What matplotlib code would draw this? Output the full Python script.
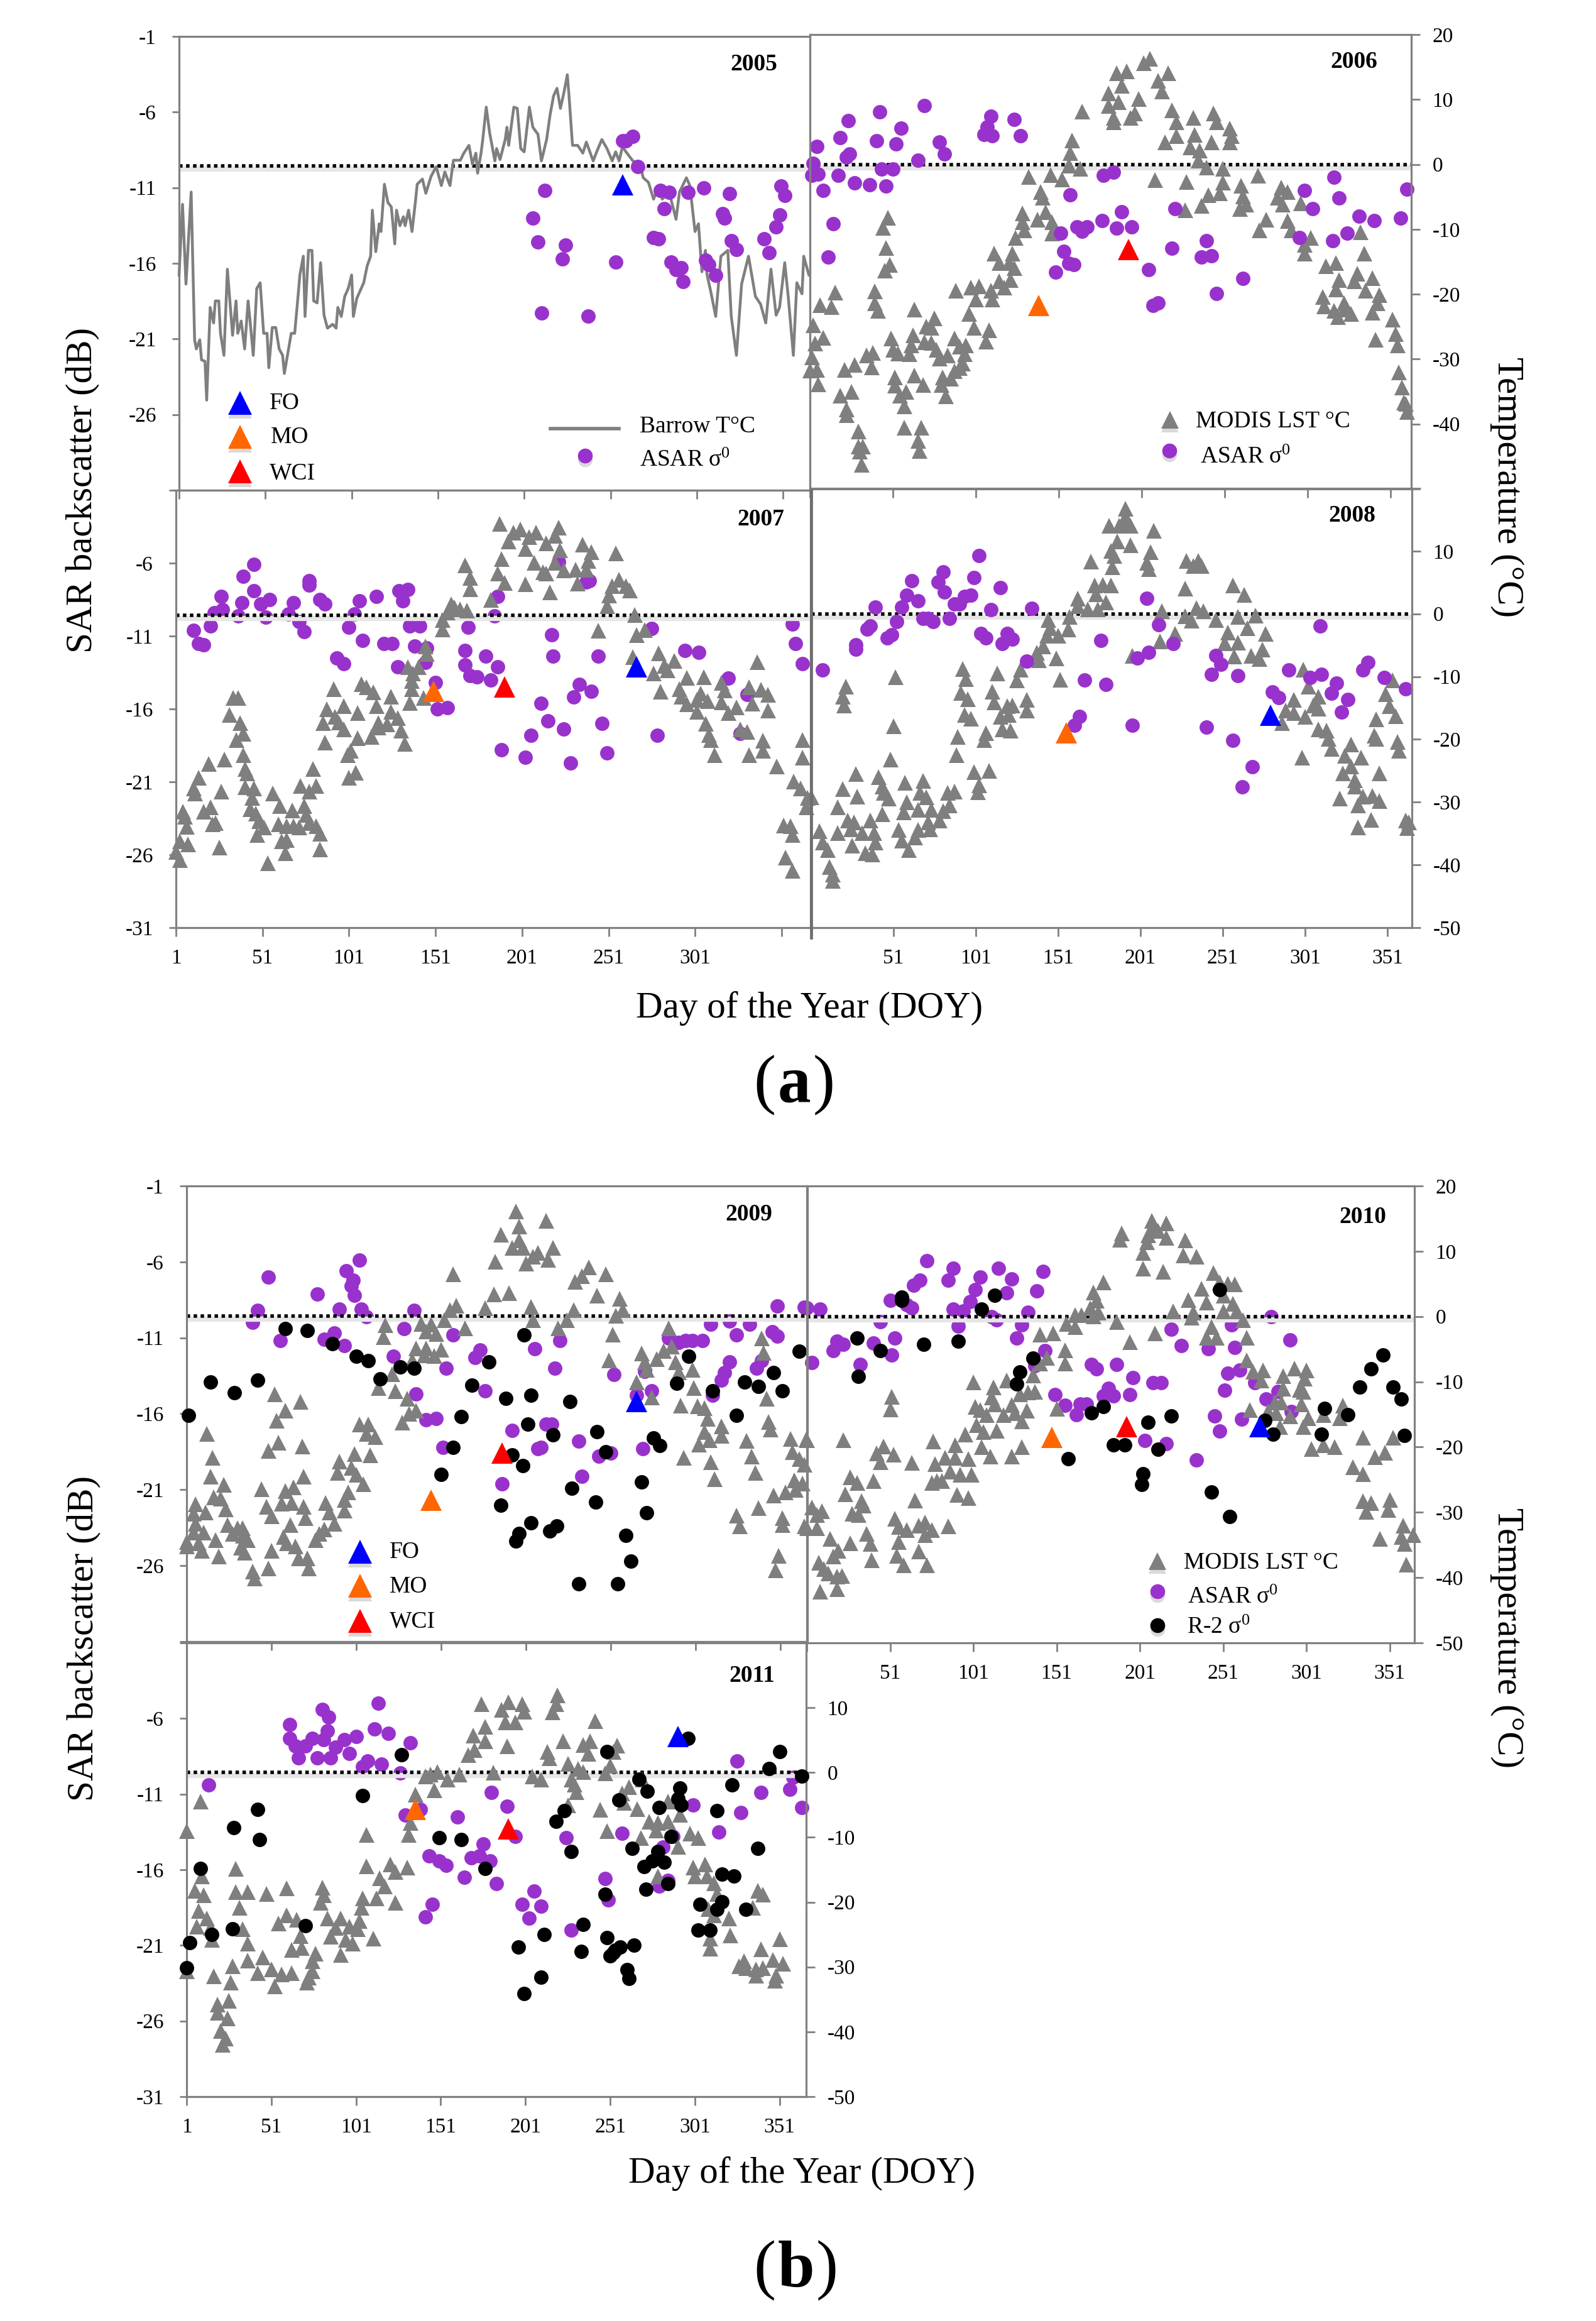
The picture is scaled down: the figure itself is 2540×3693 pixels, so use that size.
import numpy as np
import matplotlib
matplotlib.use("Agg")
from matplotlib import pyplot as plt
from matplotlib.lines import Line2D

plt.rcParams['font.family'] = ['Liberation Serif', 'DejaVu Serif']
plt.rcParams['mathtext.default'] = 'regular'

# all series are (DOY, value)
barrow_2005 = [(1,-16.8),(3,-5.9),(5,-18.2),(8,-4.0),(10,-26.8),(11,-28.2),(13,-26.8),(14,-29.9),(16,-30.1),(17,-36.1),
    (19,-21.8),(21,-24.2),(22,-20.8),(24,-20.8),(25,-25.8),(27,-29.2),(29,-15.9),(32,-26.1),(34,-20.8),(35,-25.8),
    (37,-23.9),(39,-28.2),(41,-20.8),(42,-23.5),(44,-29.2),(46,-18.9),(48,-18.0),(50,-25.8),(52,-25.8),(53,-31.1),
    (55,-24.9),(57,-24.9),(59,-28.2),(61,-29.2),(62,-32.0),(66,-25.8),(68,-25.8),(70,-19.9),(71,-16.8),(73,-13.9),
    (74,-23.2),(76,-13.0),(78,-13.0),(79,-20.8),(81,-21.1),(83,-14.9),(85,-23.0),(87,-25.0),(90,-24.4),(92,-25.0),
    (93,-21.8),(95,-23.2),(97,-20.1),(99,-18.9),(101,-16.8),(102,-23.2),(104,-20.4),(106,-19.2),(108,-18.0),(110,-15.4),
    (112,-13.9),(113,-6.8),(115,-13.2),(117,-8.9),(118,-10.1),(120,-2.8),(122,-5.6),(124,-6.3),(126,-12.0),(127,-6.8),
    (129,-9.2),(131,-7.8),(132,-9.2),(134,-6.8),(136,-10.1),(138,-5.4),(139,-2.8),(142,-2.0),(144,-4.2),(147,-1.6),
    (150,-0.1),(153,-3.0),(155,-0.9),(158,-3.0),(160,0.9),(164,0.9),(166,2.0),(169,3.2),(171,0.3),(173,2.0),
    (174,-1.1),(176,2.0),(177,4.1),(179,9.1),(181,5.1),(184,0.8),(185,2.7),(187,1.0),(190,4.1),(191,6.0),
    (192,3.2),(195,9.1),(197,8.9),(199,2.7),(201,2.2),(204,9.1),(206,6.0),(209,4.9),(211,0.8),(214,4.1),
    (216,7.9),(218,10.8),(220,12.0),(222,8.9),(224,11.3),(226,14.1),(227,10.8),(229,3.2),(232,3.2),(235,2.0),
    (237,3.7),(241,0.8),(243,2.2),(246,4.1),(249,2.7),(252,0.8),(254,2.2),(256,0.8),(258,3.0),(260,2.2),
    (264,0.8),(268,0.3),(270,-1.8),(273,-2.5),(276,-5.1),(279,-3.0),(281,-5.1),(285,-4.0),(289,-8.2),(291,-4.0),
    (295,-1.8),(297,-3.0),(300,-10.1),(302,-8.9),(304,-16.3),(306,-13.0),(307,-16.8),(309,-19.2),(312,-23.2),(315,-13.9),
    (319,-13.0),(321,-23.2),(324,-29.2),(327,-18.2),(331,-13.9),(335,-20.1),(338,-21.3),(341,-24.2),(344,-15.9),(347,-23.0),
    (349,-21.8),(352,-14.9),(354,-20.1),(357,-29.2),(359,-18.0),(362,-19.7),(363,-13.9),(366,-16.8)]

asar_2005 = [(213,-11.2),(206,-13.0),(209,-14.6),(225,-14.8),(223,-15.7),(211,-19.3),(238,-19.5),(254,-15.9),(258,-7.9),
    (260,-7.9),(264,-7.6),(267,-9.6),(280,-11.2),(285,-11.3),(282,-12.4),(296,-11.3),(305,-11),(320,-11.4),(316,-12.7),
    (317,-13),(276,-14.3),(279,-14.4),(286,-15.9),(289,-16.4),(292,-16.3),(293,-17.2),(306,-15.8),(308,-16.1),(312,-16.8),
    (321,-14.5),(324,-15.1),(340,-14.4),(343,-15.3),(347,-13.6),(349,-12.8),(350,-10.9),(352,-11.5)]

asar_2006 = [(5,-8.4),(3,-9.5),(2,-10.3),(6,-10.2),(9,-11.3),(15,-13.5),(12,-15.7),(18,-10.3),(19,-7.8),(24,-6.7),(23,-9.1),
    (25,-8.9),(28,-10.8),(37,-10.9),(43,-6.1),(41,-8),(44,-9.9),(47,-11),(51,-9.9),(53,-8.2),(56,-7.2),(66,-9.3),(70,-5.7),
    (79,-8.1),(82,-8.9),(110,-6.4),(108,-7.1),(106,-7.6),(111,-7.7),(124,-6.6),(128,-7.7),(158,-11.6),(178,-10.3),(184,-10.1),
    (152,-14.1),(154,-15.3),(157,-16.1),(160,-16.2),(149,-16.7),(162,-13.7),(165,-14),(168,-13.7),(177,-13.3),(189,-12.7),
    (186,-13.8),(195,-13.7),(221,-12.5),(219,-15.1),(205,-16.5),(208,-18.9),(211,-18.7),(240,-14.6),(237,-15.7),(243,-15.6),
    (246,-18.1),(262,-17.1),(299,-11.3),(304,-12.5),(317,-10.4),(320,-11.8),(332,-13),(341,-13.3),(357,-13.1),(361,-11.2),
    (296,-14.4),(316,-14.6),(325,-14.1)]

modis_2006 = [(206,16.3),(202,15.6),(217,14.1),(186,14.1),(192,14.4),(211,12.9),(189,12.2),(213,11.3),(181,11),(199,10.1),
    (187,9.6),(181,9.1),(165,8.2),(197,7.9),(184,7.2),(194,7.2),(219,8.4),(232,7.2),(244,7.9),(222,6.5),(246,6.5),(184,6.5),
    (254,5.6),(255,4.4),(233,4.6),(222,4.4),(215,3.4),(230,2.7),(243,3.4),(254,3.4),(236,2.2),(159,3.7),(158,1.8),(235,0.6),
    (240,-0.4),(250,-0.6),(164,-0.6),(157,-0.1),(271,-1.7),(209,-2.4),(228,-2.7),(250,-2.8),(261,-3.2),(133,-1.9),(146,-1.6),
    (153,-2.3),(285,-3.5),(289,-4.2),(241,-4.7),(248,-4.4),(262,-4.9),(140,-4.2),(141,-5.1),(283,-5.1),(297,-5.9),(264,-6.1),
    (260,-6.8),(286,-6.1),(237,-6.3),(227,-7),(276,-8.5),(272,-10.1),(289,-8.7),(291,-10.1),(143,-7.3),(138,-8.5),(129,-7.5),
    (129,-8.9),(130,-10.1),(147,-8.9),(147,-10.6),(125,-11.3),(333,-10.4),(303,-11.3),(299,-12.3),(299,-13.7),(335,-13.7),
    (48,-8.2),(45,-9.7),(47,-12.8),(49,-15.4),(46,-16.3),(112,-13.7),(123,-13.7),(115,-15.1),(121,-15.1),(124,-15.9),
    (312,-15.6),(318,-15.1),(331,-16.8),(329,-18),(340,-17.5),(320,-17.8),(115,-18),(122,-17.8),(118,-18.9),(318,-19.2),
    (336,-19.4),(344,-20.1),(310,-20.4),(16,-19.7),(40,-19.5),(89,-19.4),(98,-18.9),(103,-18.7),(110,-19.4),(7,-21.6),
    (14,-21.9),(40,-21.3),(42,-22.5),(101,-20.8),(111,-20.8),(64,-22.3),(97,-23),(311,-21.8),(317,-22.5),(323,-21.3),
    (319,-23.5),(327,-23),(340,-22.8),(323,-22.3),(343,-21.3),(352,-23.9),(354,-26.1),(355,-27.8),(342,-27),(3,-24.7),
    (4,-27.5),(9,-26.7),(2,-29.7),(1,-31.7),(5,-31.6),(6,-33.8),(22,-31.6),(28,-30.8),(35,-29.4),(39,-29),(38,-31.2),
    (76,-23.7),(71,-24.9),(74,-25.1),(100,-25.1),(109,-25.5),(50,-26.8),(63,-26.3),(88,-26.8),(95,-27.8),(107,-27.2),
    (91,-28),(51,-28.5),(54,-29.1),(61,-29.2),(62,-27.8),(70,-27.3),(74,-27.4),(77,-28.5),(79,-29.9),(84,-29.4),(94,-29.2),
    (93,-30.6),(88,-31.8),(91,-31.3),(81,-32.8),(86,-33),(52,-32.8),(52,-34),(64,-32.5),(69,-33.9),(80,-33.9),(59,-35),
    (55,-35.6),(58,-37.2),(26,-35),(19,-35.6),(23,-37.7),(23,-38.6),(83,-35.7),(58,-40.5),(68,-40.5),(66,-42.5),(67,-44.1),
    (30,-41.1),(30,-43.4),(33,-43.4),(31,-44.2),(32,-46.2),(356,-32),(358,-34.3),(359,-36.6),(361,-38.1),(360,-36.8)]

asar_2007 = [(11,-10.6),(14,-11.5),(17,-11.6),(21,-10.3),(23,-9.4),(28,-9.2),(27,-8.3),(37,-9.6),(39,-8.7),(40,-6.9),(46,-6.1),
    (46,-7.9),(50,-8.8),(53,-9.7),(55,-8.5),(66,-9.5),(69,-8.7),(72,-10),(75,-10.7),(78,-7.2),(78,-7.5),(84,-8.5),(87,-8.8),
    (94,-12.5),(98,-12.9),(101,-10.4),(104,-9.5),(107,-8.6),(109,-11.3),(117,-8.3),(121,-11.5),(126,-11.5),(129,-13.1),
    (130,-7.9),(135,-7.8),(132,-8.6),(136,-10.3),(142,-10.3),(139,-11.7),(146,-11.8),(145,-12.8),(151,-14.2),(152,-16),
    (158,-15.9),(170,-10.4),(168,-12),(168,-13),(171,-13.7),(175,-13.8),(180,-12.4),(187,-13.1),(183,-14),(185,-9.6),
    (187,-8.3),(189,-18.8),(203,-19.3),(206,-17.8),(212,-15.6),(216,-16.8),(225,-17.4),(229,-19.7),(218,-10.9),(219,-12.4),
    (222,-5.9),(238,-7.3),(240,-7.2),(245,-12.4),(234,-14.3),(241,-14.8),(231,-15.2),(247,-17),(250,-19),(276,-10.5),
    (279,-17.8),(295,-12),(303,-12.1),(320,-13.9),(331,-15),(327,-17.7),(357,-10.2),(359,-11.5),(363,-12.9)]

modis_2007 = [(188,14.7),(196,13.3),(200,13.8),(193,11.9),(209,13.3),(205,12.6),(222,14.1),(220,12.8),(215,11.6),(223,10.4),
    (203,10.6),(236,11.4),(241,10.1),(255,9.9),(189,9),(168,8),(208,8.4),(220,8.4),(239,8.7),(225,7.2),(232,7.3),(238,7.3),
    (187,6.7),(213,6.9),(215,6.7),(171,6),(191,5.2),(203,5),(233,5.1),(171,4.2),(217,3.7),(257,5.7),(253,4.7),(261,4.7),
    (263,4),(251,3.2),(250,1.5),(183,2.5),(160,1.8),(162,1.3),(165,1),(169,0.8),(158,0.5),(155,-0.7),(155,-2.2),(266,0.1),
    (245,-2.4),(272,-2.3),(267,-3.1),(145,-4.9),(146,-6.1),(265,-6.7),(280,-6),(283,-8.1),(289,-7.3),(285,-8.8),(277,-9.3),
    (281,-12.2),(135,-8.3),(141,-8.3),(138,-9.3),(137,-10.5),(137,-11.8),(144,-13.2),(136,-14),(125,-13),(92,-11.8),(108,-11),
    (111,-11.5),(115,-12.3),(337,-7.5),(296,-10),(306,-9.9),(316,-10.8),(292,-11.8),(293,-13),(296,-14.2),(302,-15.4),
    (302,-13.5),(304,-12.5),(308,-13.7),(316,-13.9),(318,-12),(332,-11.5),(339,-11.9),(343,-12.7),(334,-14.1),(325,-14.7),
    (320,-15.6),(343,-15.2),(307,-17.3),(309,-19.1),(310,-19.9),(312,-22.3),(327,-18.2),(331,-18.6),(340,-20),(340,-21.6),
    (332,-22.3),(348,-24.2),(363,-19.9),(363,-22.7),(358,-26.6),(362,-27.7),(366,-29.2),(365,-30.7),(352,-33.6),(356,-33.7),
    (357,-35.1),(353,-38.7),(357,-40.8),(88,-15),(98,-14.5),(106,-15.6),(117,-14.5),(125,-15.4),(129,-16.4),(93,-16.2),
    (86,-17.2),(95,-17.1),(98,-18.2),(118,-17.2),(123,-17.4),(118,-17.9),(131,-18.4),(106,-19.6),(114,-19.4),(133,-20.5),
    (87,-20.3),(102,-21.6),(100,-22.3),(32,-15.9),(34,-13.2),(37,-13.2),(38,-17.2),(40,-18.9),(36,-19.9),(40,-22.3),(29,-23),
    (20,-23.7),(41,-24.6),(42,-25.3),(14,-26),(11,-27.7),(12,-28.5),(27,-28.2),(41,-27.5),(46,-27.7),(45,-29.2),(57,-28.5),
    (61,-30.5),(80,-24.6),(73,-27.3),(82,-27.3),(78,-28.2),(105,-25.2),(101,-26),(5,-31.4),(6,-32.2),(7,-33.8),(21,-30.7),
    (17,-31.4),(24,-33.2),(22,-33.4),(44,-31),(47,-31.7),(49,-32.9),(52,-33.9),(48,-35.1),(68,-31.2),(75,-30.5),(76,-31.9),
    (78,-33.2),(60,-33.4),(65,-33.7),(69,-33.7),(72,-33.9),(82,-33.7),(84,-34.9),(65,-35.9),(62,-36.1),(84,-37.4),(64,-38),
    (26,-37.1),(3,-36.1),(8,-36.6),(1,-37.8),(3,-39.1),(54,-39.6)]

asar_2008 = [(8,-13.4),(28,-11.7),(28,-12),(35,-10.6),(37,-10.4),(40,-9.1),(47,-11.2),(50,-11),(53,-10.1),(56,-9.1),(59,-8.3),
    (62,-7.3),(66,-8.7),(69,-9.9),(72,-9.9),(75,-10.1),(78,-7.4),(81,-6.7),(82,-8.1),(85,-9.9),(88,-8.9),(91,-8.9),(94,-8.4),
    (98,-8.3),(100,-7.1),(103,-5.6),(104,-10.9),(107,-11.2),(110,-9.3),(116,-7.8),(117,-11.6),(120,-10.9),(123,-11.3),
    (132,-12.8),(135,-9.2),(161,-17.2),(164,-16.6),(167,-14.1),(177,-11.4),(180,-14.4),(196,-17.2),(199,-12.6),(206,-12.2),
    (205,-8.5),(212,-10.3),(221,-11.6),(241,-17.3),(247,-12.4),(250,-13),(244,-13.7),(260,-13.8),(257,-18.2),(269,-20),
    (263,-21.4),(281,-14.9),(285,-15.3),(291,-13.4),(304,-13.9),(311,-13.7),(310,-10.4),(320,-14.3),(317,-15),(327,-15.4),
    (323,-16.3),(336,-13.4),(339,-12.9),(349,-13.9),(362,-14.7)]

modis_2008 = [(192,16.8),(192,15.5),(191,14.6),(182,14.1),(188,14.1),(195,14.1),(209,13.3),(187,11.6),(195,11),(183,10.1),
    (207,9.9),(185,9.3),(171,8.4),(205,8.2),(229,8.5),(236,8.5),(233,7.7),(238,7.7),(184,7.5),(206,7.2),(173,4.6),(178,4.7),
    (183,4.6),(174,3.2),(228,4.1),(257,4.6),(264,3.1),(163,2.5),(180,1.9),(163,1.3),(169,0.8),(175,0.8),(214,0.5),(235,1),
    (239,0.5),(228,-0.3),(232,-1),(247,-0.9),(260,-0.4),(271,-0.2),(145,-0.9),(158,-0.4),(157,-2.4),(146,-2.2),(144,-3.4),
    (151,-3.4),(222,-3.1),(213,-4.3),(254,-2.9),(266,-2.2),(277,-3.1),(252,-4.6),(260,-4.5),(142,-5.1),(138,-6.1),(139,-7.3),
    (150,-7),(196,-6.6),(275,-5.6),(258,-6.7),(268,-6.6),(273,-7.1),(300,-8.8),(128,-8.8),(126,-10.5),(114,-9.4),(93,-8.7),
    (95,-10.3),(52,-10),(22,-11.5),(20,-13.1),(21,-14.5),(152,-10.4),(303,-11.5),(309,-13.1),(294,-13.6),(354,-10.5),
    (350,-12.7),(352,-14.6),(356,-16.3),(344,-16.8),(306,-14.5),(309,-15),(289,-15.4),(294,-15.8),(301,-16.4),(287,-17.4),
    (309,-18.4),(314,-18.6),(315,-19.9),(343,-19.4),(344,-19.9),(357,-20.4),(358,-21.8),(317,-21.5),(329,-20.8),(325,-22.6),
    (335,-22.9),(299,-22.9),(329,-24.3),(324,-25.4),(346,-25.4),(331,-26.5),(331,-27.5),(322,-29.4),(336,-29.1),(342,-29),
    (333,-30.5),(346,-29.8),(341,-32.8),(333,-34),(362,-32.9),(364,-33.2),(363,-34.1),(111,-12.3),(92,-12.5),(96,-13.5),
    (112,-14),(120,-14.6),(123,-14.5),(132,-13.6),(132,-15.4),(94,-16.1),(98,-16.7),(116,-16.4),(121,-16.1),(117,-18.4),
    (122,-18.6),(90,-19.6),(107,-19),(106,-20.1),(51,-17.9),(89,-22.5),(49,-23.2),(100,-25.2),(109,-25),(103,-27.3),(102,-28.4),
    (28,-25.5),(42,-26),(58,-26.9),(69,-26.6),(20,-27.9),(44,-27.5),(45,-28.5),(29,-29.1),(48,-29.4),(67,-28.5),(71,-29.2),
    (84,-28.5),(88,-28.3),(1,-29.2),(59,-30),(66,-31.2),(17,-30.8),(57,-31.6),(44,-31.9),(74,-31.2),(85,-30.5),(81,-31.4),
    (79,-32.9),(72,-33.2),(23,-32.9),(27,-33.2),(37,-32.9),(6,-34.6),(17,-34.9),(25,-34.3),(32,-34.9),(39,-34.9),(54,-34.4),
    (66,-34.4),(73,-34.3),(8,-36.4),(11,-37.6),(26,-36.9),(40,-36.4),(56,-36.1),(34,-38.1),(38,-38.3),(60,-37.6),(64,-35.6),
    (12,-40.3),(14,-41.5),(14,-42.5)]

asar_2009 = [(40,-10),(43,-9.2),(49,-7),(56,-11.2),(78,-8.1),(82,-11.1),(88,-10.7),(91,-9.1),(94,-11.5),(95,-6.6),(99,-7.2),
    (98,-7.6),(100,-8.2),(103,-5.9),(104,-9.1),(107,-9.6),(123,-12.2),(129,-10.4),(135,-9.2),(136,-14.7),(142,-16.4),(148,-16.3),
    (154,-13),(158,-10.8),(152,-18.2),(174,-11.8),(171,-12.3),(177,-14.5),(187,-20.6),(193,-17.1),(206,-11.7),(208,-18.3),
    (210,-18.2),(213,-16.7),(216,-16.7),(218,-13),(221,-11.2),(232,-17.8),(234,-20.1),(244,-18.8),(251,-18.6),(253,-13.4),
    (266,-14.8),(270,-18.3),(271,-13.2),(275,-14.5),(285,-11),(291,-11.3),(295,-11.2),(299,-11.2),(305,-11.2),(310,-10.1),
    (321,-9.9),(325,-10.8),(333,-10.1),(311,-14.8),(316,-13.8),(318,-13.3),(321,-12.6),(337,-13),(340,-12.5),(349,-8.9),
    (346,-10.6),(349,-10.9),(365,-9)]

r2_2009 = [(2,-16.1),(15,-13.9),(29,-14.6),(43,-13.8),(59,-10.4),(72,-10.5),(87,-11.4),(101,-12.2),(108,-12.5),(115,-13.7),
    (127,-12.9),(135,-13),(158,-18.2),(151,-20),(163,-16.2),(169,-14.1),(179,-12.6),(189,-15),(204,-14.8),(200,-10.8),(202,-16.7),
    (193,-18.7),(199,-19.4),(217,-17.4),(186,-22),(204,-23.2),(197,-23.9),(195,-24.4),(215,-23.7),(219,-23.4),(227,-15.2),
    (243,-17.2),(248,-18.5),(228,-20.9),(242,-21.8),(232,-27.2),(255,-27.2),(263,-25.7),(260,-24),(272,-22.5),(269,-20.5),
    (276,-17.6),(280,-18.1),(290,-14),(297,-12.2),(311,-14.5),(325,-16.1),(330,-13.9),(338,-14.2),(347,-13.3),(352,-14.5),(362,-11.9)]

modis_2009 = [(195,16.1),(213,14.7),(197,13.8),(186,12.6),(197,11.7),(193,10.5),(199,10.5),(217,10.5),(208,9.8),(205,9.2),(201,8.1),
    (214,8.7),(183,8.4),(238,7.5),(234,6.2),(230,5.3),(248,6.5),(158,6.5),(182,3.4),(191,3.6),(243,3.2),(256,2.7),(160,1.7),(156,1),
    (177,1.3),(204,1.5),(229,1),(258,1),(254,0.1),(153,-0.6),(205,-0.6),(225,-0.6),(285,-1.8),(118,-1.3),(139,-1.1),(145,-1.2),
    (220,-1.8),(165,-1.8),(117,-3.2),(142,-2.3),(148,-2.7),(252,-2.8),(340,-3.4),(341,-5.6),(136,-4.9),(142,-4.9),(151,-5.1),
    (269,-5.7),(287,-4.6),(282,-5.3),(250,-6.7),(141,-6),(147,-6.1),(134,-6.7),(271,-7),(278,-6.6),(289,-7),(299,-8.2),(291,-8.6),
    (272,-8.2),(122,-8.9),(114,-11),(266,-10.1),(300,-11),(124,-11.5),(131,-12.6),(53,-12),(68,-13.1),(343,-12.6),(275,-12.4),
    (292,-13.7),(59,-14.5),(136,-14.5),(132,-15),(302,-13.8),(306,-14.1),(308,-15.7),(54,-16),(128,-16.3),(103,-16.6),(108,-16.6),
    (107,-18),(112,-18.5),(344,-16.2),(345,-17.4),(13,-18),(316,-16.9),(306,-17.8),(316,-18.3),(309,-19),(303,-19.7),(331,-19.1),
    (357,-18.8),(366,-18.9),(55,-19.4),(69,-20),(49,-20.6),(358,-20.8),(334,-21.5),(362,-21.9),(294,-21.7),(100,-21.1),(109,-21.3),
    (16,-21.7),(310,-22.4),(91,-22.3),(365,-22.8),(98,-23.3),(90,-24),(101,-24.3),(15,-24.6),(70,-24.6),(336,-24),(312,-25),(23,-25.9),
    (359,-25.2),(364,-25.7),(45,-26.5),(105,-25.8),(64,-26.2),(59,-26.8),(347,-27.5),(354,-27),(360,-26.6),(96,-27),(94,-28.2),
    (17,-27.8),(21,-28),(24,-29.6),(6,-28.9),(12,-30.1),(48,-29.2),(57,-28.8),(63,-28.7),(70,-29.2),(83,-28.7),(51,-30.7),(71,-31),
    (85,-30.1),(94,-29.8),(325,-30.6),(327,-32.2),(338,-29.4),(352,-31),(352,-32),(365,-32.2),(5,-30.3),(6,-31.8),(62,-32),(25,-32),
    (31,-32.5),(34,-32.5),(11,-33.2),(5,-33.2),(1,-34.6),(1,-35.3),(8,-34.8),(10,-36),(18,-34.4),(20,-36.9),(28,-33.4),(34,-33.7),
    (37,-34.4),(33,-35.5),(35,-36.3),(58,-33.9),(60,-34.8),(51,-36),(65,-35.3),(67,-37.2),(72,-37.2),(73,-38.7),(49,-38.7),(40,-39.2),
    (41,-40.2),(77,-34.4),(79,-33.4),(82,-32.7),(88,-31.8),(350,-36.8),(348,-39)]

asar_2010 = [(1,-9),(9,-9.1),(4,-12.6),(17,-11.8),(19,-11.2),(23,-11.4),(33,-12.7),(41,-11.3),(45,-9.9),(52,-12.1),(54,-11),(51,-8.5),
    (61,-8.8),(64,-9),(65,-7.5),(69,-7.2),(73,-5.9),(86,-7.2),(89,-6.4),(89,-9.1),(92,-10.2),(95,-9.2),(99,-8.6),(102,-7.8),(105,-7),
    (116,-6.4),(124,-7.1),(121,-8),(112,-9.6),(115,-9.8),(127,-11),(130,-10.1),(134,-9.3),(139,-7.9),(143,-6.6),(144,-11.8),(138,-12.8),
    (150,-14.7),(156,-15.4),(163,-16),(165,-15.3),(169,-15.3),(172,-12.7),(175,-13),(179,-14.8),(182,-14.3),(185,-14.8),(187,-12.7),
    (195,-14.7),(197,-13.6),(204,-17.7),(209,-13.9),(214,-13.9),(217,-17.9),(220,-10.4),(226,-11.5),(235,-19),(242,-11.7),(246,-16.1),
    (249,-17.1),(252,-14.4),(254,-13.3),(258,-11.6),(256,-10.1),(261,-13.1),(262,-16.3),(270,-13.9),(277,-15),(284,-14.5),(280,-9.6),
    (291,-11.1),(292,-15.8)]

r2_2010 = [(31,-11),(45,-11.8),(32,-13.5),(58,-8.3),(58,-8.5),(71,-11.4),(92,-11.2),(106,-9.1),(114,-8.2),(127,-14),(129,-13.2),
    (137,-12.3),(158,-18.9),(172,-15.9),(179,-15.5),(185,-18),(192,-18),(206,-16.5),(220,-16.1),(212,-18.3),(203,-19.9),(202,-20.6),
    (244,-21.1),(255,-22.7),(249,-7.8),(276,-16.4),(281,-17.3),(310,-17.3),(312,-15.6),(326,-16),(333,-14.2),(340,-13),(347,-12.1),
    (353,-14.2),(358,-15),(360,-17.4)]

modis_2010 = [(208,14.7),(217,14.3),(190,12.8),(208,13.5),(212,13.2),(189,11.8),(206,12.5),(217,12.1),(228,11.7),(205,11.4),(203,9.8),
    (227,9.4),(235,9.2),(203,7.4),(215,6.9),(245,6.7),(179,5.3),(249,5.3),(254,5.1),(258,5),(238,4.3),(173,3.7),(251,3.2),(230,2.6),
    (241,2.2),(175,2.5),(257,2),(171,1.3),(221,0.8),(233,0.6),(176,0.6),(251,0.8),(259,0.8),(162,0.3),(166,0.3),(173,0.1),(232,-0.1),
    (187,-0.8),(263,-0.5),(157,-1.1),(162,-1.6),(244,-1.6),(210,-2.5),(141,-2.7),(149,-2.5),(241,-3.2),(247,-3.2),(265,-3.2),(195,-3.9),
    (156,-5.1),(145,-6.3),(156,-7.2),(265,-6.7),(141,-7.2),(269,-8.4),(275,-8.2),(274,-9.8),(287,-9.1),(294,-7.9),(301,-8.2),(300,-9.5),
    (121,-9.8),(101,-10),(137,-9),(113,-10.8),(287,-11),(297,-11.2),(299,-11.5),(129,-11.9),(134,-11.6),(138,-11.5),(112,-12.4),(114,-13.4),
    (52,-12.3),(51,-14.2),(298,-13.4),(282,-13.1),(286,-13.1),(124,-13.5),(323,-13.6),(102,-13.8),(105,-14.3),(109,-15),(119,-15),
    (126,-14.8),(133,-14.4),(151,-14.1),(267,-14.3),(278,-14.5),(283,-14.8),(311,-15),(291,-15.2),(302,-15.5),(321,-15.5),(130,-16),
    (103,-16.6),(299,-16.9),(285,-16.9),(107,-17.6),(115,-17.5),(96,-18),(1,-18.9),(23,-18.9),(335,-18.5),(353,-18.5),(77,-19.1),(90,-19.7),
    (106,-20),(130,-20),(47,-19.9),(304,-20.2),(311,-19.7),(318,-20),(348,-20.8),(342,-21.5),(43,-20.9),(53,-21.1),(45,-22.3),(64,-22.4),
    (78,-22.6),(84,-21.6),(90,-21.6),(98,-21.8),(111,-21.4),(124,-21.4),(87,-23.7),(93,-24.2),(100,-24.2),(329,-23),(335,-24.1),(79,-25.2),
    (82,-25.2),(76,-25.4),(27,-24.6),(31,-25.4),(41,-25.2),(24,-27.2),(91,-27.3),(98,-27.8),(66,-28.1),(34,-28.2),(35,-28.9),(32,-30.4),
    (28,-30.2),(4,-29.2),(10,-29.8),(7,-30.4),(1,-32.4),(7,-32.4),(335,-28.2),(340,-28.5),(337,-29.9),(351,-28),(350,-29.6),(54,-30.9),
    (56,-32.2),(61,-32.7),(68,-32),(72,-31.5),(76,-32.7),(72,-33.4),(86,-32.1),(15,-34),(27,-34.7),(37,-33.2),(39,-34.8),(56,-34.5),
    (345,-34),(359,-32),(358,-33.7),(365,-33.4),(360,-34.8),(40,-37.3),(68,-35.9),(20,-35.8),(17,-36.7),(8,-37.7),(11,-38.6),(14,-39.3),
    (19,-39.8),(22,-39.7),(55,-36.6),(59,-38.1),(73,-38.1),(361,-38),(9,-42.1),(19,-41.7)]

asar_2011 = [(14,-10.4),(62,-6.4),(62,-7.3),(65,-7.8),(67,-8.6),(71,-7.8),(75,-7.3),(78,-8.6),(81,-5.4),(85,-5.9),(84,-6.8),(82,-7.4),
    (86,-8.6),(89,-7.9),(94,-7.4),(97,-8.3),(101,-7.2),(105,-9.2),(108,-8.8),(112,-6.7),(114,-5),(116,-9),(120,-7),(127,-9.6),(133,-7.6),
    (130,-12.4),(139,-12),(144,-15.1),(150,-15.4),(154,-15.7),(146,-18.3),(142,-19.1),(161,-12.5),(165,-16.5),(169,-15.2),(174,-15.1),
    (176,-14.3),(180,-15.4),(184,-16.9),(181,-10.9),(190,-11.8),(195,-13.8),(199,-18.3),(206,-17.4),(210,-18.4),(203,-19.2),(228,-20),
    (225,-13.9),(248,-16.6),(250,-18),(258,-13.6),(280,-17.1),(285,-16.7),(288,-13.8),(282,-14.5),(300,-11.7),(315,-13.5),(326,-8.8),
    (328,-12.2),(340,-10.9),(357,-10.7),(359,-9.9),(364,-11.9)]

r2_2011 = [(1,-22.5),(3,-20.8),(9,-15.9),(16,-20.3),(28,-19.9),(29,-13.2),(43,-12),(44,-14),(71,-19.7),(105,-11.1),(128,-8.4),(150,-13.9),
    (163,-14),(177,-15.9),(197,-21.1),(200,-24.2),(210,-23.1),(212,-20.3),(219,-12.8),(224,-12.1),(228,-14.8),(235,-19.6),(234,-21.4),
    (249,-20.5),(248,-17.6),(249,-8.2),(251,-21.7),(254,-21.3),(257,-21.1),(265,-21),(253,-21.5),(261,-22.6),(262,-23.2),(256,-11.4),
    (264,-14.6),(268,-10),(273,-10.8),(271,-15.8),(272,-17.3),(276,-15.4),(279,-14.8),(280,-11.9),(283,-15.5),(285,-16.9),(287,-13.8),
    (292,-10.6),(291,-11.3),(293,-11.7),(297,-7.3),(303,-20),(304,-18.3),(310,-20),(314,-18.6),(317,-18.1),(317,-16.3),(324,-16.4),
    (314,-12.1),(323,-10.4),(331,-18.6),(338,-14.6),(345,-9.3),(351,-8.2),(364,-9.8)]

modis_2011 = [(220,12),(219,10.6),(217,9.3),(175,10.6),(191,10.9),(199,10.6),(187,9.7),(189,7.8),(195,7.8),(200,9.4),(177,7.1),(242,8),
    (170,5.7),(177,4.9),(190,4.1),(171,3.5),(167,2.7),(223,4.9),(235,4.3),(239,4.9),(214,3.2),(215,2.3),(238,2.9),(255,4.2),(253,3.2),
    (226,1.4),(232,0.6),(251,1.1),(248,-0.1),(182,0),(149,0.1),(142,-0.6),(145,-0.3),(155,-1),(162,-0.3),(205,-0.6),(210,-1),(228,-1),
    (235,0.1),(270,-1),(230,-1.8),(147,-2.7),(231,-3),(136,-3.4),(262,-2.2),(258,-3.2),(259,-4.6),(9,-4.4),(226,-5),(245,-5.7),(267,-5.6),
    (285,-4.4),(133,-7.7),(274,-7.5),(279,-7.7),(285,-7.5),(292,-6.5),(1,-9),(249,-9),(107,-9.6),(132,-9.6),(269,-10.1),(278,-8.9),(298,-9.4),
    (303,-10.1),(291,-11.4),(107,-14.4),(121,-14.1),(131,-14.6),(30,-14.8),(300,-14.6),(307,-14.1),(124,-15.3),(115,-16.3),(10,-16),
    (279,-16),(308,-16),(301,-16),(312,-17),(118,-17.5),(81,-17.7),(60,-17.8),(30,-18.4),(37,-18.4),(6,-18.2),(11,-18.9),(48,-18.7),
    (82,-18.9),(314,-18.7),(338,-18.2),(341,-18.8),(105,-19.4),(113,-19.4),(80,-20),(124,-20),(104,-20.8),(32,-20.8),(335,-20.8),(309,-21),
    (312,-22),(8,-21.3),(84,-22.5),(92,-22.5),(60,-22),(55,-23.2),(66,-22.7),(13,-22.5),(321,-22.5),(7,-23.7),(34,-24.1),(15,-23.9),
    (89,-23.9),(97,-23.7),(103,-22.9),(102,-24.1),(68,-25.2),(86,-25.3),(111,-25.6),(16,-25.8),(37,-26.3),(95,-25.8),(99,-26.3),(322,-25.1),
    (310,-25.6),(351,-25.7),(63,-27.3),(69,-27),(310,-27.1),(340,-27.2),(46,-28.5),(92,-28.1),(77,-27.9),(28,-29.8),(37,-29),(75,-29.1),
    (330,-29.1),(347,-28.9),(353,-29.4),(1,-30.6),(43,-30.9),(51,-30.3),(57,-31.1),(63,-30.9),(75,-30.6),(327,-29.8),(331,-30.1),(337,-30.3),
    (341,-30.1),(337,-31.3),(349,-31.3),(17,-31.4),(27,-32.4),(72,-32.4),(73,-31.6),(53,-32.9),(348,-32.1),(26,-35.2),(19,-35.7),(19,-37),
    (25,-37.9),(21,-39.8),(24,-41),(22,-42)]

# onset dates: (year, DOY, dB)
fo_events = [(2005,258,-10.8),(2007,267,-13.1),(2008,280,-16.5),(2009,266,-15.2),(2010,273,-16.8),(2011,291,-7.2)]
mo_events = [(2006,139,-18.9),(2007,150,-14.8),(2008,156,-17.7),(2009,145,-21.7),(2010,148,-17.5),(2011,136,-12)]
wci_events = [(2006,193,-15.2),(2007,191,-14.5),(2009,187,-18.6),(2010,193,-16.8),(2011,191,-13.3)]

doy_ticks = [1, 51, 101, 151, 201, 251, 301, 351]
db_ticks = [-1, -6, -11, -16, -21, -26, -31]
temp_ticks = [20, 10, 0, -10, -20, -30, -40, -50]

W, H = 2540, 3693
GRAY = '#7f7f7f'
SPINE = '#808080'
PURPLE = '#9932cc'
C_BLUE, C_ORANGE, C_RED = '#0000ff', '#ff6600', '#ff0000'
TICK_FS, YEAR_FS, LEG_FS, LAB_FS = 24, 27, 27, 42.5

fig = plt.figure(figsize=(W / 100, H / 100), dpi=100, facecolor='white')


def unpack(pairs):
    a = np.array(pairs, dtype=float)
    return a[:, 0], a[:, 1]


def fx(x):
    return x / W


def fy(y):
    return 1 - y / H


def panel(box, xmax, year, year_xy, asar=None, modis=None, r2=None, purple_top=True,
          left=None, right=None, bottom=None):
    l, t, r, b = box
    ax = fig.add_axes([fx(l), fy(b), (r - l) / W, (b - t) / H])
    ax2 = ax.twinx()
    ax3 = ax.twinx()
    for a in (ax, ax2, ax3):
        a.set_xlim(1, xmax)
        a.patch.set_visible(False)
    ax.set_ylim(-31, -1)
    ax3.set_ylim(-31, -1)
    ax2.set_ylim(-50, 20)
    ax.set_zorder(3 if purple_top else 2)
    ax2.set_zorder(2 if purple_top else 3)
    ax3.set_zorder(4)

    for a in (ax, ax2, ax3):
        for s in a.spines.values():
            s.set_color(SPINE)
            s.set_linewidth(2.2)
    ax3.set_yticks([])

    # zero line with its soft shadow
    ax2.axhline(-0.5, color='#e6e6e6', lw=6, zorder=1)
    ax2.axhline(0, color='black', lw=4, linestyle=(0, (1, 1)), dash_capstyle='butt', zorder=1.5)

    ax.set_xticks(doy_ticks)
    ax.set_xticklabels([str(d) if bottom and d in bottom else '' for d in doy_ticks], fontsize=TICK_FS)
    ax.tick_params(axis='x', direction='out', length=10, width=2, color=SPINE, pad=14)
    if left:
        ax.set_yticks(db_ticks)
        ax.set_yticklabels([str(v) if v in left else '' for v in db_ticks], fontsize=TICK_FS)
        ax.tick_params(axis='y', direction='out', length=8, width=2, color=SPINE, pad=18)
    else:
        ax.set_yticks([])
    if right:
        ax2.set_yticks(temp_ticks)
        ax2.set_yticklabels([str(v) if v in right else '' for v in temp_ticks], fontsize=TICK_FS)
        ax2.tick_params(axis='y', direction='out', length=10, width=2, color=SPINE, pad=14)
    else:
        ax2.set_yticks([])

    if modis is not None:
        xs, ys = unpack(modis)
        ax2.plot(xs, ys, '^', ms=18, color=GRAY, mew=0, clip_on=False, zorder=3)
    if asar is not None:
        xs, ys = unpack(asar)
        ax.plot(xs, ys, 'o', ms=16.5, color=PURPLE, mew=0, clip_on=False, zorder=3)
    if r2 is not None:
        xs, ys = unpack(r2)
        ax3.plot(xs, ys, 'o', ms=16.5, color='black', mew=0, clip_on=False, zorder=3)

    for events, col in ((fo_events, C_BLUE), (mo_events, C_ORANGE), (wci_events, C_RED)):
        for ev_year, ev_doy, ev_db in events:
            if ev_year == year:
                ax3.plot([ev_doy], [ev_db], '^', ms=25, color=col, mew=0, clip_on=False, zorder=5)

    fig.text(fx(year_xy[0]), fy(year_xy[1] + 2), str(year), fontsize=YEAR_FS, fontweight='bold',
             ha='center', va='center', zorder=10)
    return ax, ax2


def fig_marker(x, y, marker, ms, color):
    fig.add_artist(Line2D([fx(x)], [fy(y + 6)], marker=marker, ms=ms, color='#d9d9d9', mew=0,
                          linestyle='none', transform=fig.transFigure, zorder=8))
    fig.add_artist(Line2D([fx(x)], [fy(y)], marker=marker, ms=ms, color=color, mew=0,
                          linestyle='none', transform=fig.transFigure, zorder=9))


def fig_label(x, y, s):
    fig.text(fx(x), fy(y + 3), s, fontsize=LEG_FS, ha='left', va='center', zorder=10)


top_left = [-1, -6, -11, -16, -21, -26]
low_left = [-6, -11, -16, -21, -26, -31]
top_right = [20, 10, 0, -10, -20, -30, -40]
all_right = temp_ticks
low_right = [10, 0, -10, -20, -30, -40, -50]
days_first = [1, 51, 101, 151, 201, 251, 301]
days_rest = [51, 101, 151, 201, 251, 301, 351]

ax05, ax05t = panel((285, 58, 1289, 780), 366.6, 2005, (1200, 100), asar=asar_2005, left=top_left)
xs, ys = unpack(barrow_2005)
ax05t.plot(xs, ys, color=GRAY, lw=3.2, clip_on=False, zorder=2)

panel((1289, 55, 2246, 778), 363.5, 2006, (2155, 97), asar=asar_2006, modis=modis_2006, right=top_right)
panel((280, 780, 1290, 1476), 367.7, 2007, (1211, 824), asar=asar_2007, modis=modis_2007, purple_top=False,
      left=low_left, bottom=days_first)
panel((1291, 777, 2247, 1476), 365.9, 2008, (2152, 818), asar=asar_2008, modis=modis_2008,
      right=low_right, bottom=days_rest)
panel((297, 1887, 1285, 2612), 366.9, 2009, (1192, 1931), asar=asar_2009, modis=modis_2009, r2=r2_2009,
      purple_top=False, left=top_left)
panel((1284, 1887, 2251, 2614), 365.9, 2010, (2169, 1934), asar=asar_2010, modis=modis_2010, r2=r2_2010,
      purple_top=False, right=all_right, bottom=days_rest)
panel((297, 2614, 1283, 3336), 366.7, 2011, (1197, 2664), asar=asar_2011, modis=modis_2011, r2=r2_2011,
      purple_top=False, left=low_left, right=low_right, bottom=doy_ticks)

# heavier divider between 2007 and 2008
fig.add_artist(Line2D([fx(1291), fx(1291)], [fy(780), fy(1492)], color='#6e6e6e', lw=3.4,
                      transform=fig.transFigure, zorder=7))

# legends
fig_marker(382, 641, '^', 28, C_BLUE)
fig_marker(382, 695, '^', 28, C_ORANGE)
fig_marker(382, 750, '^', 28, C_RED)
fig_label(429, 639, 'FO')
fig_label(431, 693, 'MO')
fig_label(429, 750, 'WCI')
fig.add_artist(Line2D([fx(876), fx(985)], [fy(682), fy(682)], color=GRAY, lw=4, transform=fig.transFigure))
fig_label(1018, 676, 'Barrow T°C')
fig_marker(931, 725, 'o', 17, PURPLE)
fig_label(1018, 730, 'ASAR σ$^{0}$')

fig_marker(1862, 668, '^', 20, GRAY)
fig_label(1903, 668, 'MODIS LST °C')
fig_marker(1861, 717, 'o', 17, PURPLE)
fig_label(1910, 725, 'ASAR σ$^{0}$')

fig_marker(573, 2469, '^', 28, C_BLUE)
fig_marker(573, 2523, '^', 28, C_ORANGE)
fig_marker(573, 2579, '^', 28, C_RED)
fig_label(620, 2467, 'FO')
fig_label(620, 2522, 'MO')
fig_label(620, 2577, 'WCI')

fig_marker(1842, 2484, '^', 20, GRAY)
fig_marker(1842, 2532, 'o', 17, PURPLE)
fig_marker(1842, 2586, 'o', 17, 'black')
fig_label(1884, 2484, 'MODIS LST °C')
fig_label(1890, 2539, 'ASAR σ$^{0}$')
fig_label(1889, 2587, 'R-2 σ$^{0}$')

# axis titles
for xc, yc in ((132, 780), (134, 2607)):
    fig.text(fx(xc), fy(yc), 'SAR backscatter (dB)', fontsize=LAB_FS, rotation=90, ha='center', va='center')
for yc in (775, 2606):
    fig.text(fx(2398), fy(yc), 'Temperature (°C)', fontsize=LAB_FS, rotation=270, ha='center', va='center')
fig.text(fx(1288), fy(1604), 'Day of the Year (DOY)', fontsize=LAB_FS, ha='center', va='center')
fig.text(fx(1276), fy(3458), 'Day of the Year (DOY)', fontsize=LAB_FS, ha='center', va='center')

# panel letters: regular brackets, bold letter
fig.text(fx(1234), fy(1727), '(', fontsize=76, ha='right', va='center')
fig.text(fx(1238), fy(1727), 'a', fontsize=76, fontweight='bold', ha='left', va='center')
fig.text(fx(1294), fy(1727), ')', fontsize=76, ha='left', va='center')
fig.text(fx(1234), fy(3613), '(', fontsize=76, ha='right', va='center')
fig.text(fx(1238), fy(3613), 'b', fontsize=76, fontweight='bold', ha='left', va='center')
fig.text(fx(1299), fy(3613), ')', fontsize=76, ha='left', va='center')

fig.savefig('out.png', dpi=100)
